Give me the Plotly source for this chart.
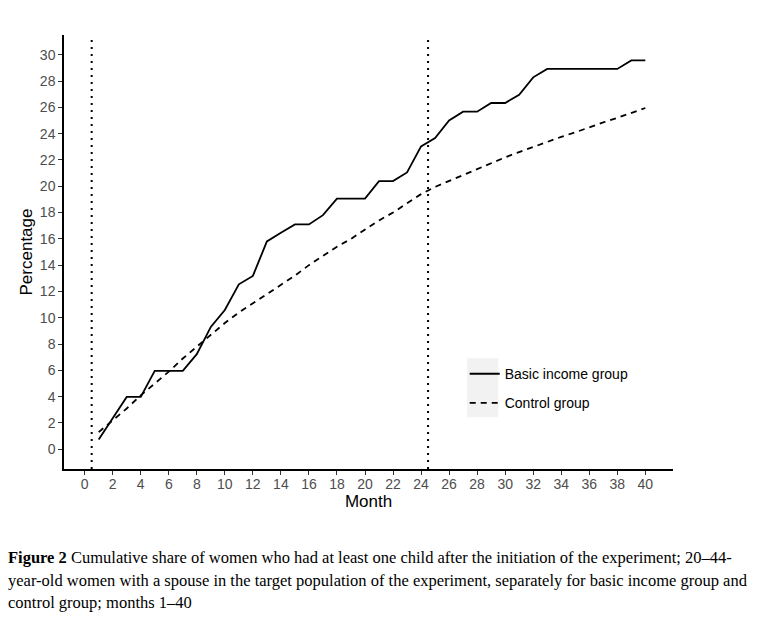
import plotly.graph_objects as go

months = list(range(1, 41))
basic_income = [0.74, 2.34, 3.98, 3.98, 5.96, 5.96, 5.96, 7.23, 9.3, 10.59,
                12.54, 13.18, 15.8, 16.47, 17.1, 17.1, 17.8, 19.06, 19.06, 19.06,
                20.39, 20.39, 21.05, 23.03, 23.66, 25.0, 25.67, 25.67, 26.33, 26.33,
                26.96, 28.28, 28.92, 28.92, 28.92, 28.92, 28.92, 28.92, 29.57, 29.57]
control = [1.3, 2.2, 3.1, 4.1, 5.0, 5.9, 6.9, 7.8, 8.7, 9.6,
           10.4, 11.1, 11.8, 12.5, 13.2, 14.0, 14.7, 15.4, 16.0, 16.7,
           17.4, 18.0, 18.7, 19.4, 19.95, 20.4, 20.9, 21.35, 21.8, 22.2,
           22.6, 23.0, 23.35, 23.75, 24.1, 24.5, 24.85, 25.2, 25.6, 25.95]
period_boundaries = [0.5, 24.5]
x_ticks = list(range(0, 41, 2))
y_ticks = list(range(0, 31, 2))
series_names = ["Basic income group", "Control group"]

fig = go.Figure()
fig.add_trace(go.Scatter(x=months, y=basic_income, mode="lines", name=series_names[0],
                         legendgroup="a",
                         line=dict(color="black", width=1.8, dash="solid")))
fig.add_trace(go.Scatter(x=months, y=control, mode="lines", name=series_names[1],
                         legendgroup="b",
                         line=dict(color="black", width=1.8, dash="6px,5px")))

for xb in period_boundaries:
    fig.add_shape(type="line", xref="x", yref="paper", x0=xb, x1=xb, y0=0, y1=1,
                  line=dict(color="black", width=2, dash="2px,5px"))

# grey legend-key background (ggplot style)
fig.add_shape(type="rect", xref="paper", yref="paper",
              x0=0.662, x1=0.713, y0=0.1193, y1=0.2554,
              fillcolor="#F2F2F2", line=dict(width=0), layer="below")

caption = [
    "<b>Figure 2</b> Cumulative share of women who had at least one child after the initiation of the experiment; 20–44-",
    "year-old women with a spouse in the target population of the experiment, separately for basic income group and",
    "control group; months 1–40",
]
cap_y = [-0.2037, -0.2568, -0.3076]
for txt, yy in zip(caption, cap_y):
    fig.add_annotation(text=txt, xref="paper", yref="paper", x=-0.0945, y=yy,
                       xanchor="left", yanchor="middle", showarrow=False, align="left",
                       font=dict(family="Liberation Serif", size=16.5, color="black"))

fig.update_layout(
    width=756, height=615,
    margin=dict(l=56, r=91, t=27, b=154),
    paper_bgcolor="white", plot_bgcolor="white",
    font=dict(family="Liberation Sans", color="black"),
    legend=dict(x=0.658, y=0.2554, xanchor="left", yanchor="top",
                bgcolor="rgba(0,0,0,0)", borderwidth=0, tracegroupgap=8,
                font=dict(family="Liberation Sans", size=14, color="black")),
    xaxis=dict(range=[-1.475, 41.975], tickmode="array", tickvals=x_ticks,
               showgrid=False, zeroline=False, showline=True, linecolor="black", linewidth=1.5,
               ticks="outside", ticklen=4, tickcolor="#333333", tickwidth=1,
               ticklabelstandoff=-3,
               tickfont=dict(family="Liberation Sans", size=14, color="#4D4D4D"),
               title=dict(text="Month", font=dict(family="Liberation Sans", size=17, color="black"),
                          standoff=0)),
    yaxis=dict(range=[-1.5, 31.5], tickmode="array", tickvals=y_ticks,
               showgrid=False, zeroline=False, showline=True, linecolor="black", linewidth=1.5,
               ticks="outside", ticklen=4, tickcolor="#333333", tickwidth=1,
               tickfont=dict(family="Liberation Sans", size=14, color="#4D4D4D"),
               title=dict(text="Percentage", font=dict(family="Liberation Sans", size=17, color="black"),
                          standoff=3)),
)

fig.write_html("out.html")
